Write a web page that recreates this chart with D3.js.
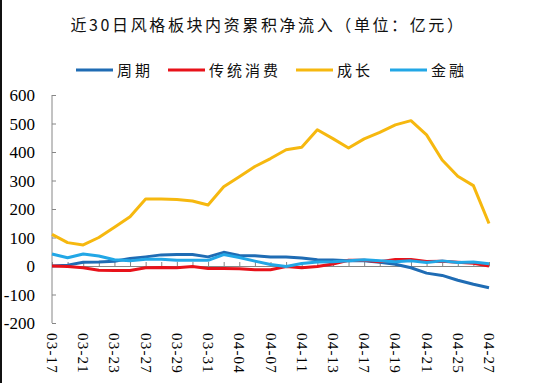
<!DOCTYPE html>
<html><head><meta charset="utf-8">
<script src="https://cdn.jsdelivr.net/npm/d3@7/dist/d3.min.js"></script>
<style>body{margin:0;background:#fff}svg{display:block}</style>
</head><body>
<svg id="c" width="542" height="383"></svg>
<script>
const dates = ["03-17","03-20","03-21","03-22","03-23","03-24","03-27","03-28","03-29","03-30","03-31","04-03","04-04","04-06","04-07","04-10","04-11","04-12","04-13","04-14","04-17","04-18","04-19","04-20","04-21","04-24","04-25","04-26","04-27"];
const cyc  = [0,3,13,14,17,26,32,39,40,40,32,48,37,36,32,32,28,22,21,18,18,13,6,-6,-25,-33,-50,-64,-76];
const cons = [0,-2,-6,-15,-16,-16,-6,-5,-6,-2,-9,-9,-10,-13,-13,-2,-6,-2,7,20,20,15,23,23,16,17,13,10,0];
const grow = [111,82,74,100,136,173,235,235,233,228,214,278,313,349,377,408,417,478,447,414,446,469,495,510,460,372,315,282,149];
const fin  = [42,29,42,35,22,18,24,24,20,20,20,40,30,17,5,-2,9,14,15,18,22,18,15,18,12,18,12,14,8];
const seriesNames = ["周期","传统消费","成长","金融"];
const colors = ["#1F6CB4","#E8121A","#F6B80F","#22A7E6"];
const yTicks = [600,500,400,300,200,100,0,-100,-200];
const labelDates = dates.filter((d,i)=>i%2===0);

const svg = d3.select("#c");
svg.append("rect").attr("x",0).attr("y",0).attr("width",2).attr("height",383).attr("fill","#111");

const x = d3.scalePoint().domain(dates).range([52,489]);
const y = d3.scaleLinear().domain([-200,600]).range([323,95]);
const axisColor = "#868686";

// title
svg.append("text").attr("x",268).attr("y",31).attr("text-anchor","middle")
  .attr("font-family","'Noto Sans CJK SC'").attr("font-size",16).attr("letter-spacing",2.6)
  .attr("fill","#111").text("近30日风格板块内资累积净流入（单位：亿元）");

// legend
const legX = [76,168,296,390];
seriesNames.forEach((n,i)=>{
  const g = svg.append("g");
  g.append("line").attr("x1",legX[i]).attr("x2",legX[i]+37).attr("y1",70).attr("y2",70)
    .attr("stroke",colors[i]).attr("stroke-width",3);
  g.append("text").attr("x",legX[i]+41).attr("y",76).attr("font-family","'Noto Sans CJK SC'")
    .attr("font-size",15).attr("letter-spacing",3).attr("fill","#111").text(n);
});

// y axis
const yAxis = d3.axisRight(y).tickValues(yTicks).tickSize(4).tickFormat("");
const gy = svg.append("g").attr("transform","translate(52,0)").call(yAxis);
gy.select(".domain").attr("stroke",axisColor).attr("d","M0,95V323");
gy.selectAll(".tick line").attr("stroke",axisColor);
svg.append("g").selectAll("text").data(yTicks).join("text")
  .attr("x",35).attr("y",d=>y(d)+6).attr("text-anchor","end")
  .attr("font-family","'Liberation Serif'").attr("font-size",17).attr("fill","#000")
  .text(d=>d);

// x axis at zero
const xAxis = d3.axisTop(x).tickSize(4).tickSizeOuter(0).tickFormat("");
const gx = svg.append("g").attr("transform",`translate(0,${y(0)})`).call(xAxis);
gx.select(".domain").attr("stroke",axisColor);
gx.selectAll(".tick line").attr("stroke",axisColor);

// x labels
svg.append("g").selectAll("text").data(labelDates).join("text")
  .attr("transform",d=>`translate(${x(d)-5},333) rotate(90)`)
  .attr("font-family","'Liberation Serif'").attr("font-size",15).attr("letter-spacing",1.2)
  .attr("fill","#000").text(d=>d);

// lines
const data = [cyc,cons,grow,fin];
const line = d3.line().x((d,i)=>x(dates[i])).y(d=>y(d));
data.forEach((s,i)=>{
  svg.append("path").attr("d",line(s)).attr("fill","none").attr("stroke",colors[i])
    .attr("stroke-width",3).attr("stroke-linejoin","round");
});
</script>
</body></html>
